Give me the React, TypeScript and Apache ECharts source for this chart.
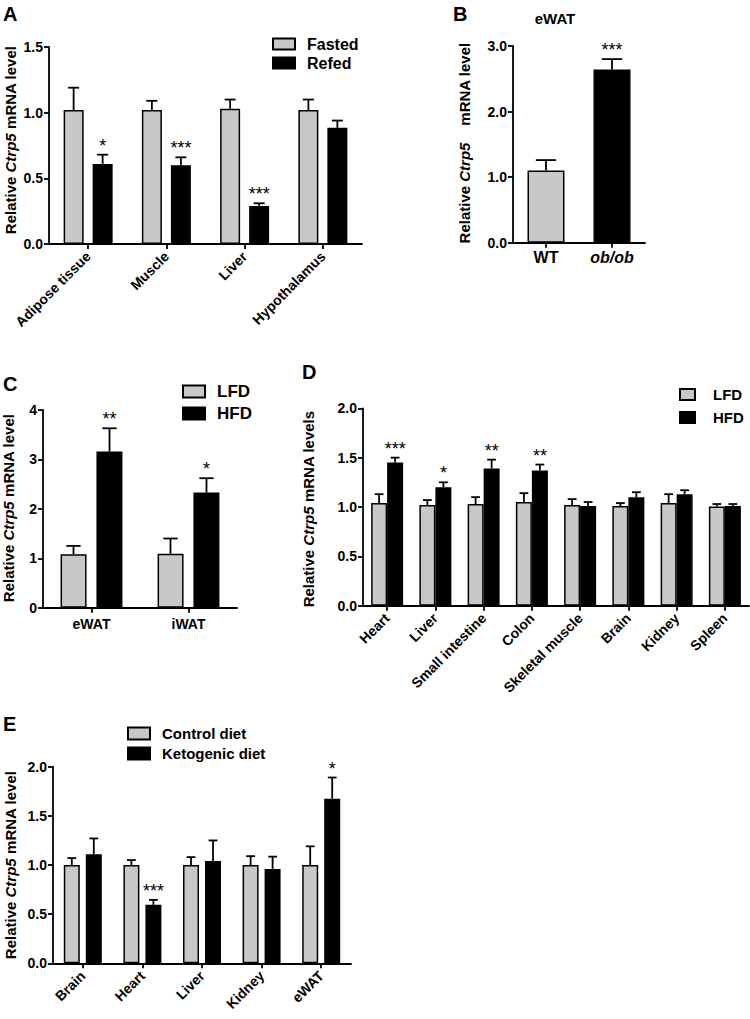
import React, { useEffect, useRef } from "react";
import * as echarts from "echarts";

// ---------- Data ----------
const catA = ["Adipose tissue", "Muscle", "Liver", "Hypothalamus"];
const fastedA = [1.02, 1.02, 1.03, 1.02];
const fastedErrA = [1.19, 1.09, 1.1, 1.1];
const refedA = [0.61, 0.6, 0.29, 0.885];
const refedErrA = [0.68, 0.66, 0.31, 0.94];
const sigRefedA = ["*", "***", "***", ""];

const catB = ["WT", "ob/ob"];
const valB = [1.1, 2.64];
const errB = [1.26, 2.8];
const sigB = ["", "***"];

const catC = ["eWAT", "iWAT"];
const lfdC = [1.08, 1.09];
const lfdErrC = [1.25, 1.4];
const hfdC = [3.16, 2.33];
const hfdErrC = [3.63, 2.62];
const sigHfdC = ["**", "*"];

const catD = ["Heart", "Liver", "Small intestine", "Colon", "Skeletal muscle", "Brain", "Kidney", "Spleen"];
const lfdD = [1.04, 1.02, 1.03, 1.05, 1.02, 1.01, 1.04, 1.005];
const lfdErrD = [1.13, 1.07, 1.1, 1.14, 1.08, 1.04, 1.13, 1.03];
const hfdD = [1.45, 1.2, 1.39, 1.37, 1.01, 1.1, 1.13, 1.01];
const hfdErrD = [1.5, 1.25, 1.48, 1.43, 1.05, 1.15, 1.17, 1.03];
const sigHfdD = ["***", "*", "**", "**", "", "", "", ""];

const catE = ["Brain", "Heart", "Liver", "Kidney", "eWAT"];
const ctrlE = [1.0, 1.0, 1.0, 1.0, 1.0];
const ctrlErrE = [1.07, 1.05, 1.08, 1.09, 1.19];
const ketoE = [1.11, 0.595, 1.04, 0.96, 1.675];
const ketoErrE = [1.27, 0.645, 1.25, 1.085, 1.89];
const sigKetoE = ["", "***", "", "", "*"];

// ---------- Styles ----------
const FF = "'Liberation Sans', Arial, Helvetica, sans-serif";
const GRAY = "#c8c8c8";
const BLACK = "#000000";
const AXW = 1.8;

function yAxis(gridIndex: number, max: number, interval: number, digits: number) {
  return {
    type: "value",
    gridIndex,
    min: 0,
    max,
    interval,
    axisLine: { show: true, lineStyle: { color: BLACK, width: AXW } },
    axisTick: { show: true, length: 5, lineStyle: { color: BLACK, width: AXW } },
    splitLine: { show: false },
    axisLabel: {
      color: BLACK,
      fontWeight: "bold",
      fontSize: 14,
      fontFamily: FF,
      margin: 6,
      formatter: (v: number) => v.toFixed(digits),
    },
  };
}

function xAxis(gridIndex: number, data: string[], rotate: number, extra: any = {}) {
  return {
    type: "category",
    gridIndex,
    data,
    axisLine: { show: true, lineStyle: { color: BLACK, width: AXW } },
    axisTick: { show: true, alignWithLabel: true, length: 5, lineStyle: { color: BLACK, width: AXW } },
    axisLabel: {
      interval: 0,
      rotate,
      color: BLACK,
      fontWeight: "bold",
      fontSize: 14,
      fontFamily: FF,
      margin: rotate ? 10 : 9,
      ...extra,
    },
    splitLine: { show: false },
  };
}

function bar(name: string, idx: number, data: any[], color: string, barWidth: number, barGap: string) {
  return {
    type: "bar",
    name,
    xAxisIndex: idx,
    yAxisIndex: idx,
    data,
    barWidth,
    barGap,
    itemStyle: { color, borderColor: BLACK, borderWidth: 1.5 },
    z: 2,
  };
}

function errSeries(idx: number, vals: number[], errs: number[], sig: string[], offset: number, barW: number) {
  const capW = barW * 0.55;
  return {
    type: "custom",
    name: "err" + idx + "_" + offset,
    xAxisIndex: idx,
    yAxisIndex: idx,
    z: 5,
    silent: true,
    data: vals.map((v, i) => [i, v, errs[i]]),
    renderItem: (params: any, api: any) => {
      const i = api.value(0);
      const p0 = api.coord([i, api.value(1)]);
      const p1 = api.coord([i, api.value(2)]);
      const x = p0[0] + offset;
      const children: any[] = [
        { type: "line", shape: { x1: x, y1: p0[1], x2: x, y2: p1[1] }, style: { stroke: BLACK, lineWidth: 1.8 } },
        { type: "line", shape: { x1: x - capW / 2, y1: p1[1], x2: x + capW / 2, y2: p1[1] }, style: { stroke: BLACK, lineWidth: 1.8 } },
      ];
      const s = sig[params.dataIndex];
      if (s) {
        children.push({
          type: "text",
          x,
          y: p1[1] - 9,
          style: {
            text: s,
            fill: BLACK,
            fontSize: 18,
            fontFamily: FF,
            align: "center",
            verticalAlign: "middle",
          },
        });
      }
      return { type: "group", children };
    },
  };
}

function yTitle(x: number, y: number, after: string, before = "Relative ") {
  const base = { fontSize: 15, fontWeight: "bold", fontFamily: FF, fill: BLACK };
  return {
    type: "text",
    x,
    y,
    rotation: Math.PI / 2,
    style: {
      text: "{a|" + before + "}{b|Ctrp5}{a|" + after + "}",
      align: "center",
      verticalAlign: "middle",
      rich: { a: { ...base }, b: { ...base, fontStyle: "italic" } },
    },
  };
}

function letter(x: number, y: number, t: string) {
  return {
    type: "text",
    x,
    y,
    style: { text: t, fontSize: 20, fontWeight: "bold", fontFamily: FF, fill: BLACK, align: "left", verticalAlign: "top" },
  };
}

function legend(data: string[], left: number, top: number, fontSize: number, itemWidth: number, itemHeight: number, itemGap: number, pad: number) {
  return {
    data,
    orient: "vertical",
    left,
    top,
    padding: 0,
    itemWidth,
    itemHeight,
    itemGap,
    icon: "rect",
    selectedMode: false,
    textStyle: { color: BLACK, fontSize, fontWeight: "bold", fontFamily: FF, padding: [0, 0, 0, pad] },
  };
}

export default function App() {
  const ref = useRef<HTMLDivElement>(null);
  useEffect(() => {
    if (!ref.current) return;
    const chart = echarts.init(ref.current, undefined, { renderer: "svg" });
    const option: any = {
      animation: false,
      backgroundColor: "#ffffff",
      grid: [
        { left: 49, top: 47, width: 313, height: 197 },
        { left: 513, top: 46, width: 132, height: 196.7 },
        { left: 43, top: 410, width: 194, height: 197.7 },
        { left: 363, top: 408.3, width: 386, height: 197.4 },
        { left: 53, top: 766.7, width: 298, height: 196.6 },
      ],
      xAxis: [
        xAxis(0, catA, 45),
        xAxis(1, catB, 0, {
          fontSize: 16,
          margin: 7,
          formatter: (v: string) => (v === "ob/ob" ? "{i|ob/ob}" : v),
          rich: { i: { fontStyle: "italic", fontWeight: "bold", fontSize: 16, fontFamily: FF, color: BLACK } },
        }),
        xAxis(2, catC, 0),
        xAxis(3, catD, 45),
        xAxis(4, catE, 45),
      ],
      yAxis: [yAxis(0, 1.5, 0.5, 1), yAxis(1, 3, 1, 1), yAxis(2, 4, 1, 0), yAxis(3, 2, 0.5, 1), yAxis(4, 2, 0.5, 1)],
      legend: [
        legend(["Fasted", "Refed"], 272, 36, 16, 22, 11, 3, 7),
        legend(["LFD", "HFD"], 182, 383, 17, 22, 12, 5, 7),
        legend(["LFD", "HFD"], 679, 387, 15, 15, 11, 8, 13),
        legend(["Control diet", "Ketogenic diet"], 127, 726, 15, 22, 12, 5, 7),
      ],
      series: [
        bar("Fasted", 0, fastedA, GRAY, 20, "45%"),
        bar("Refed", 0, refedA, BLACK, 20, "45%"),
        errSeries(0, fastedA, fastedErrA, ["", "", "", ""], -14.5, 20),
        errSeries(0, refedA, refedErrA, sigRefedA, 14.5, 20),
        {
          ...bar("Genotype", 1, valB.map((v, i) => ({ value: v, itemStyle: { color: i === 0 ? GRAY : BLACK } })), GRAY, 37, "0%"),
        },
        errSeries(1, valB, errB, sigB, 0, 37),
        bar("LFD", 2, lfdC, GRAY, 26, "38%"),
        bar("HFD", 2, hfdC, BLACK, 26, "38%"),
        errSeries(2, lfdC, lfdErrC, ["", ""], -18, 26),
        errSeries(2, hfdC, hfdErrC, sigHfdC, 18, 26),
        bar("LFD", 3, lfdD, GRAY, 16, "0%"),
        bar("HFD", 3, hfdD, BLACK, 16, "0%"),
        errSeries(3, lfdD, lfdErrD, catD.map(() => ""), -8, 16),
        errSeries(3, hfdD, hfdErrD, sigHfdD, 8, 16),
        bar("Control diet", 4, ctrlE, GRAY, 16, "37.5%"),
        bar("Ketogenic diet", 4, ketoE, BLACK, 16, "37.5%"),
        errSeries(4, ctrlE, ctrlErrE, catE.map(() => ""), -11, 16),
        errSeries(4, ketoE, ketoErrE, sigKetoE, 11, 16),
      ],
      graphic: [
        letter(3, 4, "A"),
        letter(453, 4, "B"),
        letter(3, 374, "C"),
        letter(302, 362, "D"),
        letter(3, 714, "E"),
        {
          type: "text",
          x: 555,
          y: 18,
          style: { text: "eWAT", fontSize: 15, fontWeight: "bold", fontFamily: FF, fill: BLACK, align: "center", verticalAlign: "middle" },
        },
        yTitle(10, 140, " mRNA level"),
        yTitle(464, 143, "    mRNA level"),
        yTitle(8, 508, " mRNA level"),
        yTitle(308, 509, " mRNA levels"),
        yTitle(10, 865, " mRNA level"),
      ],
    };
    chart.setOption(option);
    return () => chart.dispose();
  }, []);
  return <div ref={ref} style={{ position: "absolute", left: 0, top: 0, width: 750, height: 1019 }} />;
}
